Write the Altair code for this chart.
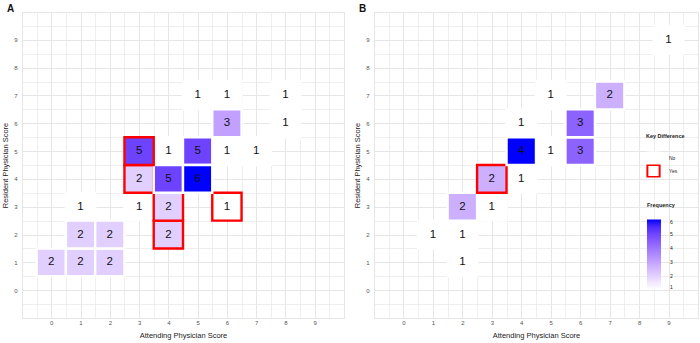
import altair as alt
import pandas as pd

# Panel A data (attending score, resident score, frequency, key difference)
att_a = [0, 1, 2, 1, 2, 4, 1, 3, 4, 6, 3, 4, 5, 3, 4, 5, 6, 7, 6, 8, 5, 6, 8]
res_a = [1, 1, 1, 2, 2, 2, 3, 3, 3, 3, 4, 4, 4, 5, 5, 5, 5, 5, 6, 6, 7, 7, 7]
freq_a = [2, 2, 2, 2, 2, 2, 1, 1, 2, 1, 2, 5, 6, 5, 1, 5, 1, 1, 3, 1, 1, 1, 1]
key_a = ["No", "No", "No", "No", "No", "Yes", "No", "No", "Yes", "Yes", "Yes", "No",
         "No", "Yes", "No", "No", "No", "No", "No", "No", "No", "No", "No"]

# Panel B data
att_b = [2, 1, 2, 2, 3, 3, 4, 4, 5, 6, 4, 6, 5, 7, 9]
res_b = [1, 2, 2, 3, 3, 4, 4, 5, 5, 5, 6, 6, 7, 7, 9]
freq_b = [1, 1, 1, 2, 1, 2, 1, 4, 1, 3, 1, 3, 1, 2, 1]
key_b = ["No", "No", "No", "No", "No", "Yes", "No", "No", "No", "No", "No", "No", "No", "No", "No"]

tick_labels = list(range(0, 10))
freq_legend_values = [1, 2, 3, 4, 5, 6]
key_levels = ["No", "Yes"]


def make_df(att, res, freq, key):
    df = pd.DataFrame({"att": att, "res": res, "freq": freq, "key": key})
    return df.sort_values("freq", kind="stable").reset_index(drop=True)


grid_vals = [i * 0.5 for i in range(-2, 21)]
label_expr = "(datum.value % 1 === 0 && datum.value >= 0 && datum.value <= 9) ? ('' + datum.value) : ''"
grid_width = {"condition": {"test": "datum.value % 1 === 0", "value": 1.0}, "value": 0.7}

W_A, W_B, H = 322, 324, 306


def axis(title, orient, lp, tp):
    return alt.Axis(
        values=grid_vals, labelExpr=label_expr, grid=True, gridColor="#E6E6E6",
        gridWidth=grid_width, ticks=False, domain=False, labelFontSize=6,
        labelColor="#555555", labelPadding=lp, title=title, titleFontSize=7.5,
        titleFontWeight="normal", titleColor="#222222", titlePadding=tp,
        labelOverlap=False, labelFlush=False, labelBound=False, orient=orient,
    )


def panel(df, name, dom, with_legends, width):
    base = alt.Chart(df).transform_calculate(
        x0="datum.att - 0.5", x1="datum.att + 0.5",
        y0="datum.res - 0.5", y1="datum.res + 0.5",
    )
    xs = alt.Scale(domain=[-1, 10], nice=False, zero=False)
    ys = alt.Scale(domain=[-1, 10], nice=False, zero=False)
    xa = axis("Attending Physician Score", "bottom", 1.5, 6)
    ya = axis("Resident Physician Score", "left", 5, 4)
    X = alt.X("x0:Q", scale=xs, axis=xa)
    Y = alt.Y("y0:Q", scale=ys, axis=ya)

    if with_legends:
        stroke_legend = alt.Legend(
            orient="none", legendX=272, legendY=122, title="Key Difference",
            symbolType="square", symbolSize=150, symbolStrokeWidth=2,
            symbolFillColor="white", labelFontSize=5, titleFontSize=5.5,
            titleFontWeight="bold", labelOffset=8, rowPadding=0, titlePadding=12,
            clipHeight=13, labelColor="#222222", titleColor="#222222",
        )
    else:
        stroke_legend = None

    tiles = base.mark_rect(strokeWidth=2.4).encode(
        x=X, x2="x1:Q", y=Y, y2="y1:Q",
        color=alt.Color("freq:Q", scale=alt.Scale(domain=dom, range=["white", "blue"], interpolate="lab"), legend=None),
        stroke=alt.Stroke("key:N", scale=alt.Scale(domain=key_levels, range=["white", "red"]), legend=stroke_legend),
    )
    text = base.mark_text(fontSize=11.5, color="#111111", font="Liberation Sans").encode(
        x=alt.X("att:Q", scale=xs, axis=xa), y=alt.Y("res:Q", scale=ys, axis=ya), text="freq:Q"
    )
    layers = [tiles, text]
    if with_legends:
        leg = base.mark_rect(fillOpacity=0, strokeOpacity=0).encode(
            x=X, x2="x1:Q", y=Y, y2="y1:Q",
            fill=alt.Fill(
                "freq:Q",
                scale=alt.Scale(domain=[1, 6], range=["white", "blue"], interpolate="lab"),
                legend=alt.Legend(
                    orient="none", legendX=273, legendY=191, title="Frequency",
                    direction="vertical", gradientLength=70, gradientThickness=14,
                    values=freq_legend_values, labelFontSize=5, titleFontSize=5.5,
                    titleFontWeight="bold", labelOffset=9, gradientStrokeWidth=0,
                    titlePadding=11, labelColor="#222222", titleColor="#222222",
                ),
            ),
        )
        layers.append(leg)
    return alt.layer(*layers).properties(
        width=width, height=H,
        title=alt.TitleParams(name, anchor="start", frame="group", fontSize=10,
                              fontWeight="bold", dx=-15, offset=-13, baseline="alphabetic",
                              color="#111111"),
    )


pa = panel(make_df(att_a, res_a, freq_a, key_a), "A", [1, 6], False, W_A)
pb = panel(make_df(att_b, res_b, freq_b, key_b), "B", [1, 4], True, W_B)

chart = alt.hconcat(pa, pb, spacing=8).resolve_scale(
    color="independent", fill="independent", stroke="independent", x="independent", y="independent"
).properties(
    padding={"left": 1, "top": 3, "right": 0, "bottom": 0},
    background="white",
).configure_view(stroke=None).configure(font="Liberation Sans")

chart.save("out.html", embed_options={"renderer": "svg", "actions": False})
